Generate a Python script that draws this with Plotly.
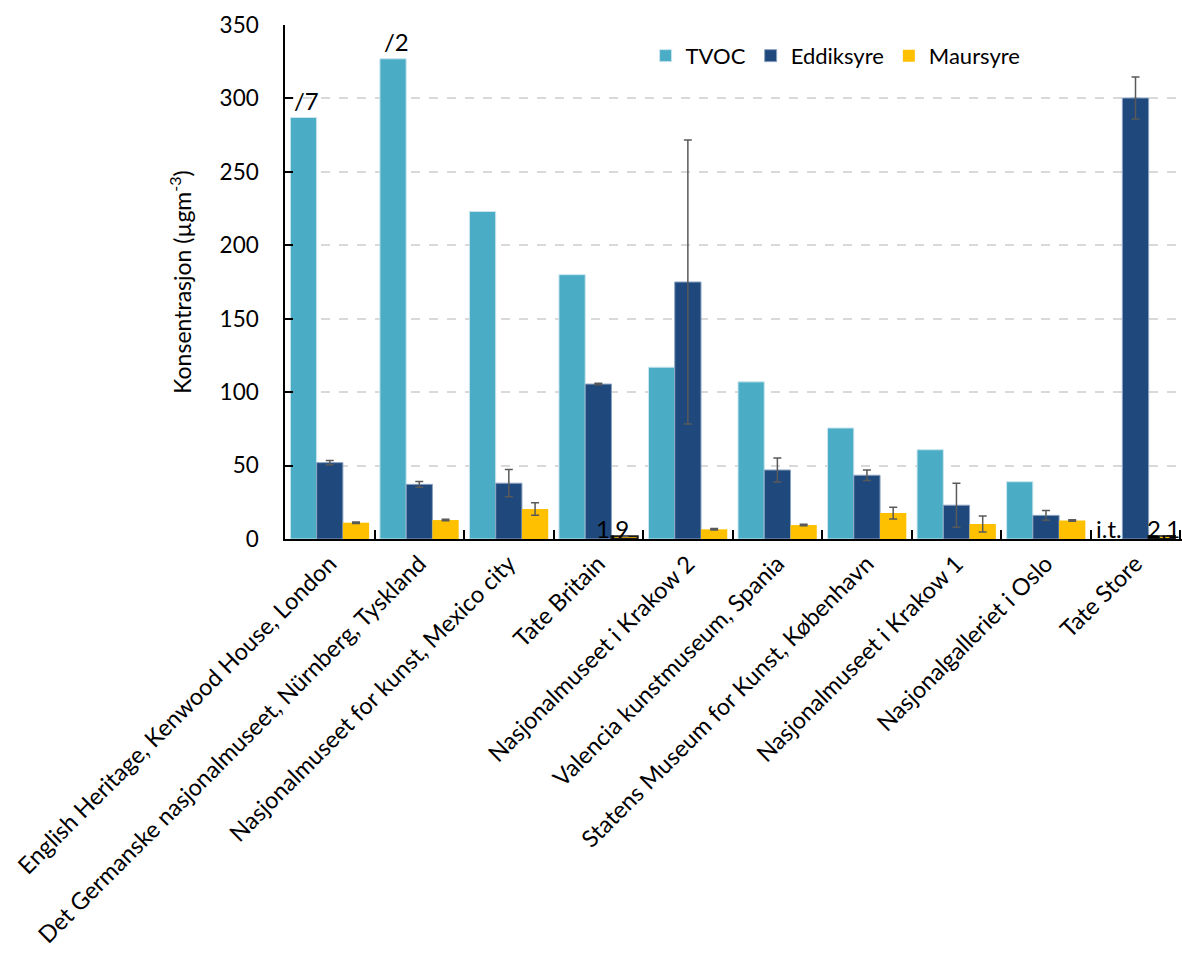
import plotly.graph_objects as go

categories = [
    "English Heritage, Kenwood House, London",
    "Det Germanske nasjonalmuseet, Nürnberg, Tyskland",
    "Nasjonalmuseet for kunst, Mexico city",
    "Tate Britain",
    "Nasjonalmuseet i Krakow 2",
    "Valencia kunstmuseum, Spania",
    "Statens Museum for Kunst, København",
    "Nasjonalmuseet i Krakow 1",
    "Nasjonalgalleriet i Oslo",
    "Tate Store",
]
tvoc = [287, 327, 223, 180, 117, 107, 75.6, 60.8, 39, None]
eddiksyre = [52, 37.2, 38, 105.5, 175, 47, 43.4, 23, 16.1, 300.3]
eddiksyre_err = [1.5, 2, 9.3, 0.5, 96.7, 8.2, 3.5, 15, 3.3, 14.3]
maursyre = [11.1, 12.9, 20.4, 1.9, 6.6, 9.5, 17.7, 10.2, 12.6, 2.1]
maursyre_err = [0.5, 0.5, 4.3, 0, 0.5, 0.5, 4, 5.5, 0.5, 0]

FONT = "Lato, Carlito, Calibri, sans-serif"
err_style = dict(type="data", visible=True, color="#595959", thickness=1.5, width=4)

fig = go.Figure()
fig.add_trace(go.Bar(
    name="TVOC", x=categories, y=tvoc,
    marker=dict(color="#4BACC6", line=dict(color="#c9e6ee", width=1)),
))
fig.add_trace(go.Bar(
    name="Eddiksyre", x=categories, y=eddiksyre,
    error_y=dict(array=eddiksyre_err, **err_style),
    marker=dict(color="#1F497D", line=dict(color="#8aa2c0", width=1)),
))
outline_w = [2 if v < 3 else 0 for v in maursyre]
fig.add_trace(go.Bar(
    name="Maursyre", x=categories, y=maursyre,
    error_y=dict(array=maursyre_err, **err_style),
    marker=dict(color="#FFC000", line=dict(color="#1a1a1a", width=outline_w)),
))

ann_font = dict(family=FONT, size=24, color="#000000")
annotations = [
    dict(x=categories[0], y=tvoc[0], text="/7", xshift=-23, yshift=1),
    dict(x=categories[1], y=tvoc[1], text="/2", xshift=-23, yshift=1),
    dict(x=categories[3], y=0, text="1,9", xshift=14, yshift=-6),
    dict(x=categories[9], y=0, text="i.t.", xshift=-27, yshift=-6),
    dict(x=categories[9], y=0, text="2,1", xshift=28, yshift=-6),
]
for a in annotations:
    a.update(xref="x", yref="y", showarrow=False, yanchor="bottom", font=ann_font)

fig.update_layout(
    width=1182, height=956,
    margin=dict(l=285, r=0, t=25, b=417),
    paper_bgcolor="white", plot_bgcolor="white",
    barmode="group", bargap=0.12, bargroupgap=0,
    font=dict(family=FONT, size=22, color="#000000"),
    showlegend=True,
    legend=dict(orientation="h", x=0.402, y=0.94, xanchor="left", yanchor="middle",
                font=dict(family=FONT, size=22), bgcolor="rgba(0,0,0,0)",
                itemwidth=30, traceorder="normal"),
    annotations=annotations,
)
fig.update_xaxes(
    type="category", tickangle=-45, tickfont=dict(family=FONT, size=23.5),
    showline=True, linecolor="#000000", linewidth=1.5,
    ticks="inside", tickson="boundaries", ticklen=9, tickcolor="#000000", tickwidth=1.5,
    showgrid=False,
)
fig.update_yaxes(
    range=[0, 350], tickvals=[0, 50, 100, 150, 200, 250, 300, 350],
    tickfont=dict(family=FONT, size=22.5), ticklabelstandoff=20,
    title=dict(text="Konsentrasjon (µgm<sup>-3</sup>)", font=dict(family=FONT, size=23), standoff=22),
    showline=True, linecolor="#000000", linewidth=1.5,
    ticks="inside", ticklen=8, tickcolor="#000000", tickwidth=1.5,
    showgrid=True, gridcolor="#d9d9d9", griddash="dash", gridwidth=1.5,
    zeroline=False,
)

fig.write_html("out.html")
